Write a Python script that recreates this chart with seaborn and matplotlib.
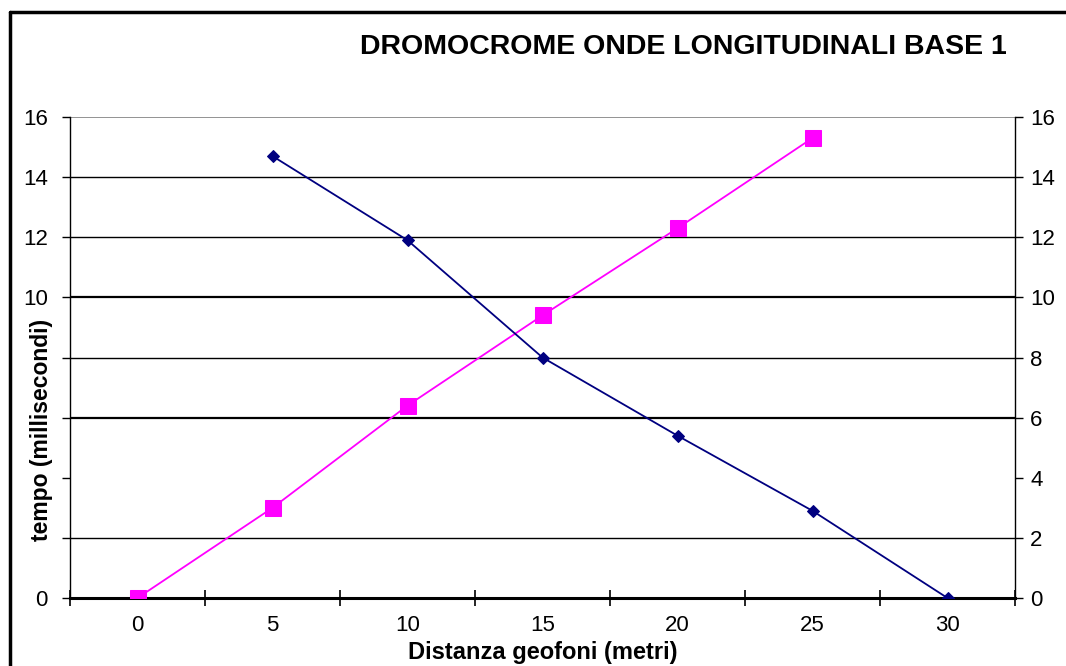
import matplotlib
matplotlib.use("Agg")
import matplotlib.pyplot as plt
import seaborn as sns
import pandas as pd
from matplotlib.lines import Line2D

# Data
dist_blue = [5, 10, 15, 20, 25, 30]
time_blue = [14.7, 11.9, 8.0, 5.4, 2.9, 0.0]
dist_pink = [0, 5, 10, 15, 20, 25]
time_pink = [0.0, 3.0, 6.4, 9.4, 12.3, 15.3]
x_labels = [0, 5, 10, 15, 20, 25, 30]
y_ticks = [0, 2, 4, 6, 8, 10, 12, 14, 16]
left_visible = [0, 10, 12, 14, 16]
grid_vals = [2, 6, 8, 10, 12, 14]

sns.set_theme(style="white")
plt.rcParams['font.family'] = ['Liberation Sans', 'DejaVu Sans']
plt.rcParams['text.color'] = 'black'
plt.rcParams['xtick.color'] = 'black'
plt.rcParams['ytick.color'] = 'black'
plt.rcParams['axes.labelcolor'] = 'black'

df_blue = pd.DataFrame({"x": dist_blue, "y": time_blue})
df_pink = pd.DataFrame({"x": dist_pink, "y": time_pink})

fig = plt.figure(figsize=(10.66, 6.66), dpi=100)
ax = fig.add_axes([70/1066, 68/666, 945/1066, 481/666])

for g in grid_vals:
    ax.axhline(g, color="black", lw=1.0 if g not in (6, 10) else 1.6, zorder=1)
ax.axhline(16, color="#808080", lw=1.2, zorder=1)

sns.lineplot(data=df_pink, x="x", y="y", ax=ax, color="#FF00FF", lw=1.3,
             marker="s", markersize=11, markeredgecolor="#FF00FF", zorder=3)
sns.lineplot(data=df_blue, x="x", y="y", ax=ax, color="#000080", lw=1.3,
             marker="D", markersize=6, markeredgecolor="#000080", zorder=4)

ax.set_xlim(-2.5, 32.5)
ax.set_ylim(0, 16)
ax.set_xticks([-2.5 + 5 * i for i in range(8)])
ax.set_xticklabels([])
ax.set_xticks(x_labels, minor=True)
ax.set_xticklabels([str(v) for v in x_labels], minor=True, fontsize=16)
ax.tick_params(axis="x", which="major", direction="inout", length=12, width=1.2, bottom=True)
ax.tick_params(axis="x", which="minor", length=0, pad=12, bottom=True)
ax.set_yticks(y_ticks)
ax.set_yticklabels([str(v) if v in left_visible else "" for v in y_ticks], fontsize=16)
ax.tick_params(axis="y", direction="out", length=6, width=1, left=True, pad=10)

ax.spines["top"].set_visible(False)
ax.spines["left"].set_color("black")
ax.spines["left"].set_linewidth(1)
ax.spines["bottom"].set_color("black")
ax.spines["bottom"].set_linewidth(2.2)
ax.spines["right"].set_color("black")
ax.spines["right"].set_linewidth(1)

ax.set_xlabel("")
ax.set_ylabel("")
fig.text(543/1066, 1 - 653/666, "Distanza geofoni (metri)", fontsize=17,
         fontweight="bold", ha="center", va="center")
fig.text(42/1066, 1 - 430/666, "tempo (millisecondi)", rotation=90, fontsize=16.5,
         fontweight="bold", ha="center", va="center")

ax2 = ax.twinx()
ax2.set_ylim(0, 16)
ax2.set_yticks(y_ticks)
ax2.set_yticklabels([str(v) for v in y_ticks], fontsize=16)
ax2.tick_params(axis="y", direction="out", length=6, width=1, right=True, pad=5)
for s in ax2.spines.values():
    s.set_visible(False)

fig.text(683/1066, 1 - 47/666, "DROMOCROME ONDE LONGITUDINALI BASE 1", fontsize=20.5,
         fontweight="bold", ha="center", va="center")

# chart frame (left and top edges visible)
fig.add_artist(Line2D([9.5/1066, 9.5/1066], [0, 1 - 11.5/666], transform=fig.transFigure,
                      color="black", lw=2.5))
fig.add_artist(Line2D([9.5/1066, 1], [1 - 11.5/666, 1 - 11.5/666], transform=fig.transFigure,
                      color="black", lw=2.5))

fig.savefig("out.png", dpi=100)
